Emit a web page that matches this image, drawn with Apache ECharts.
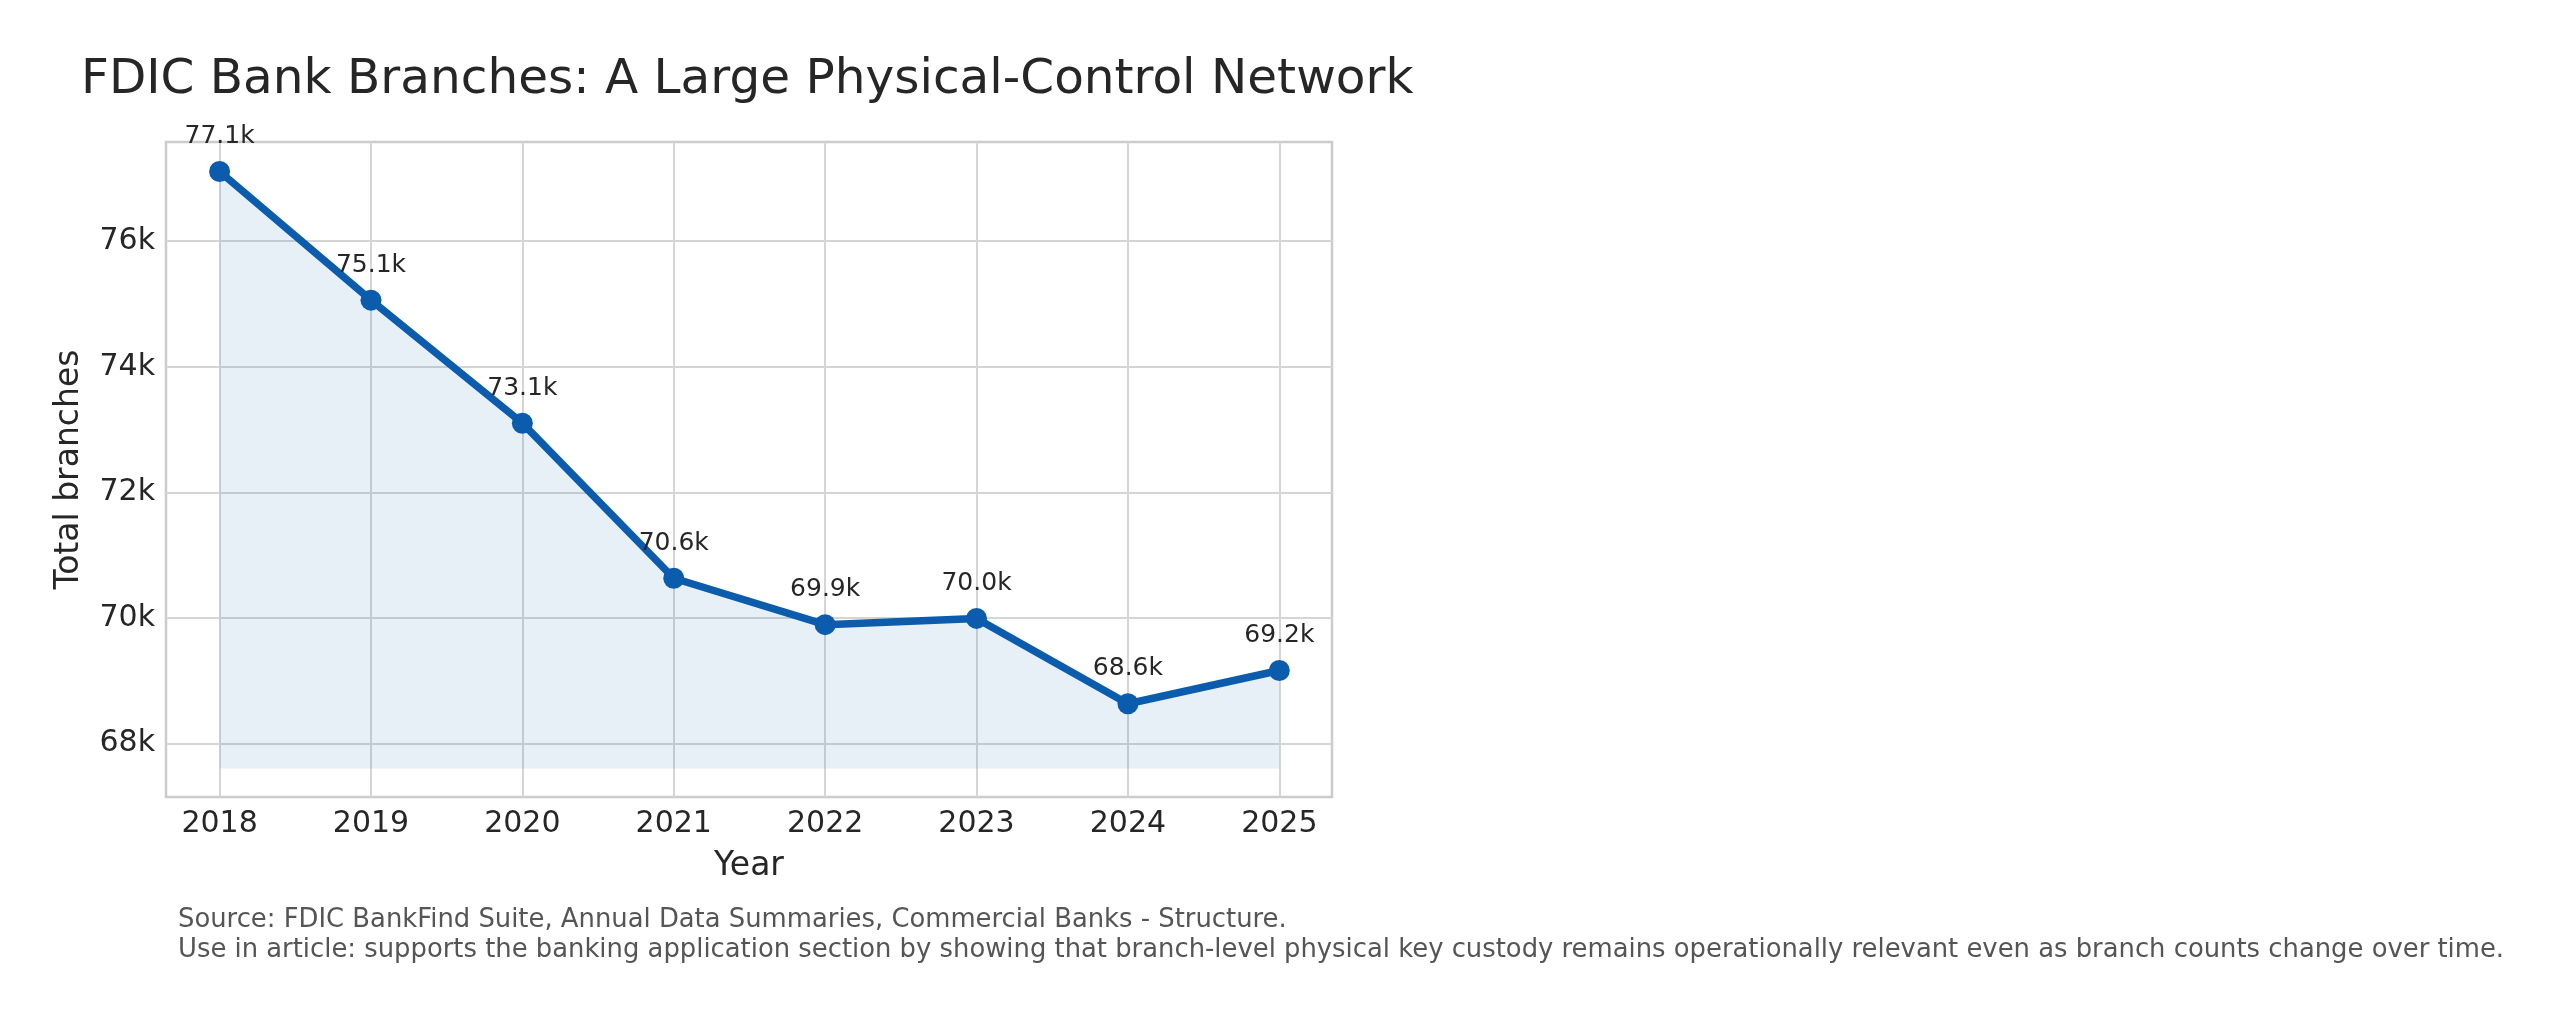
<!DOCTYPE html>
<html>
<head>
<meta charset="utf-8">
<title>FDIC Bank Branches</title>
<script src="https://cdn.jsdelivr.net/npm/echarts@6/dist/echarts.min.js"></script>
<style>
  html,body{margin:0;padding:0;background:#fff;}
  #main{width:2560px;height:1015px;}
</style>
</head>
<body>
<div id="main"></div>
<script>
var years=[2018,2019,2020,2021,2022,2023,2024,2025];
var branches=[77110,75060,73100,70630,69890,69990,68630,69160];
var yTicks=[68000,70000,72000,74000,76000];
var fillBase=67600;

var titleText='FDIC Bank Branches: A Large Physical-Control Network';
var sourceLines=[
  'Source: FDIC BankFind Suite, Annual Data Summaries, Commercial Banks - Structure.',
  'Use in article: supports the banking application section by showing that branch-level physical key custody remains operationally relevant even as branch counts change over time.'
];

var font='DejaVu Sans';
var ink='#262626';

var pts=[];
for(var i=0;i<years.length;i++){
  pts.push([years[i],branches[i]]);
}

function kFmt(v){
  return (v/1000).toFixed(1)+'k';
}

var chart=echarts.init(document.getElementById('main'));
var option={
  backgroundColor:'#fff',
  animation:false,
  graphic:[
    {type:'text',left:81,top:56,style:{text:titleText,font:'48.5px "'+font+'"',fill:ink}},
    {type:'text',left:178,top:907,style:{text:sourceLines[0],font:'25.85px "'+font+'"',fill:'#555555'}},
    {type:'text',left:178,top:937,style:{text:sourceLines[1],font:'25.85px "'+font+'"',fill:'#555555'}}
  ],
  grid:{
    left:166,top:142,right:1228,bottom:218,
    show:true,borderColor:'#cccccc',borderWidth:2.5,
    containLabel:false
  },
  xAxis:{
    type:'value',
    min:2017.646,max:2025.348,
    name:'Year',nameLocation:'middle',nameGap:53,
    nameTextStyle:{fontFamily:font,fontSize:33,color:ink},
    axisLine:{show:false},
    axisTick:{show:false,customValues:years},
    axisLabel:{customValues:years,fontFamily:font,fontSize:30,color:ink,margin:12,
      formatter:function(v){return String(v);}},
    splitLine:{show:true,lineStyle:{color:'#d5d5d5',width:2}}
  },
  yAxis:{
    type:'value',
    min:67145,max:77580,
    name:'Total branches',nameLocation:'middle',nameGap:80,
    nameTextStyle:{fontFamily:font,fontSize:33,color:ink},
    axisLine:{show:false},
    axisTick:{show:false,customValues:yTicks},
    axisLabel:{customValues:yTicks,fontFamily:font,fontSize:30,color:ink,margin:11,
      formatter:function(v){return Math.round(v/1000)+'k';}},
    splitLine:{show:true,lineStyle:{color:'#d5d5d5',width:2}}
  },
  series:[{
    type:'line',
    data:pts,
    symbol:'circle',
    symbolSize:21,
    lineStyle:{color:'#0b5cad',width:7.5},
    itemStyle:{color:'#0b5cad'},
    areaStyle:{color:'rgba(11,92,173,0.14)',origin:fillBase},
    label:{
      show:true,position:'top',distance:12,
      fontFamily:font,fontSize:25,color:ink,
      formatter:function(p){return kFmt(p.value[1]);}
    },
    z:3
  }]
};
chart.setOption(option);
</script>
</body>
</html>
